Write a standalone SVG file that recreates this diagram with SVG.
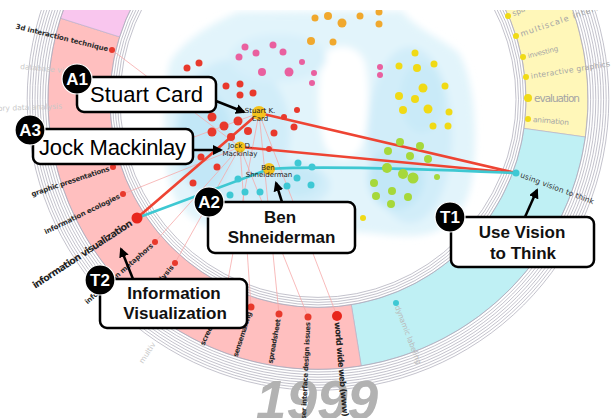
<svg xmlns="http://www.w3.org/2000/svg" width="612" height="418" viewBox="0 0 612 418">
<defs>
<style>
.seg{stroke:#b4adc4;stroke-width:0.6}
.rl{fill:none;stroke:#a9a8b6;stroke-width:0.7}
.thin{fill:none;stroke:#f6a9a9;stroke-width:0.8}
.thick{fill:none;stroke-width:2.6;stroke-linecap:round}
.r{fill:#e8392c}.p{fill:#e9609f}.o{fill:#f0a82e}.y{fill:#f0da16}.g{fill:#a6d83a}.c{fill:#3ec8d4}
.au{fill:#f4c21c}
.an{font-family:"DejaVu Sans","Liberation Sans",sans-serif;font-size:7px;fill:#222;text-anchor:middle}
.tl{font-family:"DejaVu Sans","Liberation Sans",sans-serif;font-size:7px;font-weight:bold;fill:#2b2b2b}
.tf{font-family:"DejaVu Sans","Liberation Sans",sans-serif;font-size:7.5px;fill:#c9c9c9}
.ty{font-family:"DejaVu Sans","Liberation Sans",sans-serif;font-size:7.5px;fill:#a4a4a4}
.box{fill:#fff;stroke:#000;stroke-width:2.5}
.big{font-family:"Liberation Sans",Arial,sans-serif;font-size:22px;fill:#000}
.mid{font-family:"Liberation Sans",Arial,sans-serif;font-size:17px;font-weight:bold;fill:#111;text-anchor:middle}
.bd{fill:#000;stroke:#fff;stroke-width:1.2}
.bt{font-family:"Liberation Sans",Arial,sans-serif;font-size:17px;font-weight:bold;fill:#fff;text-anchor:middle}
.arr{fill:none;stroke:#000;stroke-width:2.5;marker-end:url(#ah)}
</style>
<clipPath id="top"><rect x="0" y="10" width="612" height="408"/></clipPath>
<filter id="soft" x="-20%" y="-20%" width="140%" height="140%"><feGaussianBlur stdDeviation="3.5"/></filter>
<marker id="ah" viewBox="0 0 10 10" refX="8" refY="5" markerWidth="4" markerHeight="4" orient="auto" markerUnits="strokeWidth"><path d="M0,0 L10,5 L0,10 Z" fill="#000"/></marker>
</defs>
<rect width="612" height="418" fill="#fff"/>

<g clip-path="url(#top)">
<!-- density haze behind the clusters -->
<g id="haze" filter="url(#soft)">
<path fill="#e2f4fb" d="M170,62 C185,38 215,22 238,12 L402,11 C415,28 440,38 458,52 C476,80 478,140 472,180 C466,215 445,236 410,236 C385,236 372,232 352,232 C320,236 280,240 245,236 C205,232 178,215 170,185 C163,150 162,95 170,62 Z"/>
<path fill="#fff" d="M324,54 C336,42 358,44 365,62 C371,90 369,128 361,148 C352,163 333,163 325,146 C317,124 316,80 324,54 Z"/>
<ellipse fill="#d1edf9" cx="232" cy="132" rx="58" ry="72"/>
<ellipse fill="#d1edf9" cx="285" cy="185" rx="45" ry="24"/>
<ellipse fill="#d8f0fa" cx="278" cy="58" rx="48" ry="24"/>
<ellipse fill="#d1edf9" cx="410" cy="135" rx="42" ry="88"/>
<ellipse fill="#c2e7f7" cx="205" cy="142" rx="28" ry="50"/>
<ellipse fill="#c2e7f7" cx="396" cy="178" rx="28" ry="32"/>
<ellipse fill="#c6e9f7" cx="298" cy="181" rx="22" ry="15"/>
<ellipse fill="#c9eaf8" cx="422" cy="98" rx="22" ry="35"/>
</g>

<!-- topic ring: coloured sectors and concentric guide arcs -->
<g id="ring">
<path class="seg" fill="#fff7b9" d="M524.8,-74.2 A270,270 0 0 1 585.4,137.0 L524.0,128.4 A208,208 0 0 0 477.3,-34.3 Z"/>
<path class="seg" fill="#bff0f4" d="M585.4,137.0 A270,270 0 0 1 361.2,365.9 L351.3,304.7 A208,208 0 0 0 524.0,128.4 Z"/>
<path class="seg" fill="#ffbfbf" d="M361.2,365.9 A270,270 0 0 1 60.5,18.2 L119.6,36.9 A208,208 0 0 0 351.3,304.7 Z"/>
<path class="seg" fill="#f9c6ee" d="M60.5,18.2 A270,270 0 0 1 183,-134.4 L214,-80.7 A208,208 0 0 0 119.6,36.9 Z"/>
<g transform="translate(318,99.4)">
<circle class="rl" r="270"/><circle class="rl" r="272.6"/><circle class="rl" r="275.2"/><circle class="rl" r="277.8"/><circle class="rl" r="280.4"/><circle class="rl" r="283"/><circle class="rl" r="285.6"/><circle class="rl" r="288.2"/><circle class="rl" r="290.8"/>
<circle class="rl" r="208"/><circle class="rl" r="205.5"/><circle class="rl" r="203"/><circle class="rl" r="200.5"/><circle class="rl" r="198"/>
</g>
</g>
</g>

<text id="year" x="317" y="419" text-anchor="middle" style="font-family:'Liberation Sans',Arial,sans-serif;font-size:55px;font-weight:bold;font-style:italic;fill:#b2b2b2">1999</text>

<!-- connectors -->
<g id="connectors">
<line class="thin" x1="240" y1="147" x2="112" y2="50"/>
<line class="thin" x1="259" y1="113" x2="113" y2="167"/>
<line class="thin" x1="240" y1="147" x2="123" y2="194"/>
<line class="thin" x1="240" y1="147" x2="155" y2="242"/>
<line class="thin" x1="240" y1="147" x2="175" y2="263"/>
<line class="thin" x1="259" y1="113" x2="225" y2="296"/>
<line class="thin" x1="240" y1="147" x2="251" y2="307"/>
<line class="thin" x1="259" y1="113" x2="279" y2="314"/>
<line class="thin" x1="240" y1="147" x2="308" y2="317"/>
<line class="thin" x1="259" y1="113" x2="337" y2="316"/>
<line class="thick" stroke="#ee4433" x1="137" y1="218" x2="259" y2="113"/>
<line class="thick" stroke="#ee4433" x1="259" y1="113" x2="516" y2="173"/>
<line class="thick" stroke="#ee4433" x1="240" y1="147" x2="516" y2="173"/>
<line class="thick" stroke="#3ec8d2" x1="137" y1="218" x2="269" y2="169"/>
<path class="thick" stroke="#3ec8d2" d="M269,169 Q330,165 516,173"/>
</g>

<!-- paper clusters -->
<g id="clusters" clip-path="url(#top)">
<g class="p">
<circle cx="245" cy="47" r="3.5"/><circle cx="273" cy="45" r="3.5"/><circle cx="239" cy="57" r="3.5"/><circle cx="256" cy="53" r="3.5"/><circle cx="283" cy="52" r="3.5"/><circle cx="302" cy="62" r="3"/><circle cx="262" cy="72" r="4"/><circle cx="289" cy="72" r="4.5"/><circle cx="314" cy="73" r="3"/><circle cx="312" cy="83" r="3"/><circle cx="380" cy="67" r="3"/><circle cx="380" cy="75" r="3"/>
</g>
<g class="o">
<circle cx="315" cy="18" r="3.5"/><circle cx="328" cy="16" r="4"/><circle cx="342" cy="23" r="4.5"/><circle cx="360" cy="16" r="3.5"/><circle cx="379" cy="12" r="3.5"/><circle cx="379" cy="24" r="3.5"/><circle cx="311" cy="41" r="4"/><circle cx="333" cy="42" r="3.5"/>
</g>
<g class="r">
<circle cx="187" cy="68" r="3.5"/><circle cx="199" cy="63" r="3.5"/><circle cx="226" cy="86" r="3.5"/><circle cx="240" cy="84" r="3.5"/><circle cx="240" cy="95" r="3.5"/><circle cx="253" cy="93" r="3.5"/><circle cx="212" cy="117" r="4.5"/><circle cx="224" cy="126" r="4.5"/><circle cx="238" cy="121" r="4.5"/><circle cx="212" cy="132" r="4.5"/><circle cx="248" cy="131" r="4"/><circle cx="231" cy="137" r="4"/><circle cx="274" cy="133" r="3.5"/><circle cx="284" cy="117" r="3"/><circle cx="294" cy="127" r="3.5"/><circle cx="297" cy="110" r="3"/><circle cx="269" cy="149" r="3"/><circle cx="201" cy="157" r="3.5"/><circle cx="217" cy="167" r="3.5"/><circle cx="193" cy="183" r="3.5"/>
</g>
<g class="c">
<circle cx="298" cy="163" r="3.5"/><circle cx="312" cy="167" r="3.5"/><circle cx="297" cy="178" r="3.5"/><circle cx="311" cy="185" r="3.5"/><circle cx="287" cy="186" r="3.5"/><circle cx="238" cy="179" r="3.5"/><circle cx="260" cy="192" r="3.5"/><circle cx="245" cy="192" r="3.5"/><circle cx="230" cy="195" r="3.5"/>
</g>
<g class="y">
<circle cx="415" cy="53" r="3.5"/><circle cx="399" cy="66" r="3.5"/><circle cx="417" cy="68" r="4"/><circle cx="434" cy="64" r="3.5"/><circle cx="423" cy="88" r="4.5"/><circle cx="445" cy="86" r="3.5"/><circle cx="399" cy="96" r="4"/><circle cx="415" cy="99" r="4"/><circle cx="403" cy="110" r="4"/><circle cx="428" cy="109" r="4.5"/><circle cx="449" cy="112" r="3.5"/><circle cx="433" cy="126" r="3.5"/><circle cx="448" cy="126" r="3.5"/><circle cx="363" cy="218" r="3"/>
</g>
<g class="g">
<circle cx="400" cy="142" r="4"/><circle cx="420" cy="146" r="4"/><circle cx="388" cy="151" r="4"/><circle cx="410" cy="156" r="4"/><circle cx="428" cy="159" r="4"/><circle cx="387" cy="168" r="5"/><circle cx="403" cy="174" r="5"/><circle cx="413" cy="178" r="5.5"/><circle cx="437" cy="177" r="3"/><circle cx="374" cy="183" r="4"/><circle cx="392" cy="191" r="4"/><circle cx="376" cy="196" r="4"/><circle cx="408" cy="197" r="4"/><circle cx="391" cy="204" r="4"/>
</g>
</g>

<!-- topics on the ring -->
<g clip-path="url(#top)">
<g id="topic-faded">
<text class="tf" transform="translate(20,69) rotate(5)">database vis</text>
<text class="tf" transform="translate(-33,112) rotate(-2)">exploratory data analysis</text>
<text class="tf" transform="translate(143,364) rotate(-57)">multiv</text>
</g>
<g id="topic-3d"><circle class="r" cx="112" cy="50" r="3"/><text class="tl" transform="translate(112,50) rotate(14)" x="-4" y="2.5" text-anchor="end" textLength="95">3d interaction technique</text></g>
<g id="topic-graphic"><circle class="r" cx="113" cy="167" r="3"/><text class="tl" transform="translate(113,167) rotate(-18.3)" x="-4" y="2.5" text-anchor="end" textLength="82">graphic presentations</text></g>
<g id="topic-ecologies"><circle class="r" cx="123" cy="194" r="3"/><text class="tl" transform="translate(123,194) rotate(-25.9)" x="-4" y="2.5" text-anchor="end" textLength="83">information ecologies</text></g>
<g id="topic-infovis"><circle cx="137" cy="218" r="5.5" fill="#e8251c"/><text class="tl" style="font-size:9.5px;fill:#222" transform="translate(137,218) rotate(-33.2)" x="-7" y="3.5" text-anchor="end" textLength="117">information visualization</text></g>
<g id="topic-metaphors"><circle class="r" cx="155" cy="242" r="3"/><text class="tl" transform="translate(155,242) rotate(-41.2)" x="-4" y="2.5" text-anchor="end" textLength="88">information metaphors</text></g>
<g id="topic-analysis"><circle class="r" cx="175" cy="263" r="3"/><text class="tl" transform="translate(175,263) rotate(-48.8)" x="-4" y="2.5" text-anchor="end">data analysis</text></g>
<g id="topic-screen"><circle class="r" cx="225" cy="296" r="3"/><text class="tl" transform="translate(225,296) rotate(-64.7)" x="-4" y="2.5" text-anchor="end" textLength="50">screen layout</text></g>
<g id="topic-sensemaking"><circle class="r" cx="251" cy="307" r="3.5"/><text class="tl" transform="translate(251,307) rotate(-72.1)" x="-5" y="2.5" text-anchor="end" textLength="47">sensemaking</text></g>
<g id="topic-spreadsheet"><circle class="r" cx="279" cy="314" r="3.5"/><text class="tl" transform="translate(279,314) rotate(-79.7)" x="-5" y="2.5" text-anchor="end" textLength="45">spreadsheet</text></g>
<g id="topic-uid"><circle class="r" cx="308" cy="317" r="3.5"/><text class="tl" transform="translate(308,317) rotate(-87.4)" x="-5" y="2.5" text-anchor="end" textLength="102">user interface design issues</text></g>
<g id="topic-www"><circle cx="337" cy="316" r="5" fill="#e8251c"/><text class="tl" style="font-size:8.5px;fill:#222" transform="translate(337,316) rotate(85)" x="6" y="3" textLength="95">world wide web (www)</text></g>
<g id="topic-vision"><circle class="c" cx="516" cy="173" r="3.5"/><text class="tl" style="font-weight:normal;fill:#333;font-size:7.5px" transform="translate(516,173) rotate(20.4)" x="5" y="2.5" textLength="78">using vision to think</text></g>
<g id="topic-labeling"><circle class="c" cx="396" cy="303" r="3"/><text class="tf" style="fill:#b9b9b9" transform="translate(396,303) rotate(69)" x="3" y="2.5" textLength="62">dynamic labeling</text></g>
<g id="topic-space"><circle class="y" cx="508" cy="16" r="3"/><text class="ty" transform="translate(508,16) rotate(-24)" x="5" y="2.5">space</text></g>
<g id="topic-multiscale"><circle class="y" cx="516" cy="36" r="3"/><text class="ty" style="font-size:8px" transform="translate(516,36) rotate(-19)" x="5" y="2.5" textLength="104">multiscale interfaces</text></g>
<g id="topic-investing"><circle class="y" cx="523" cy="57" r="3"/><text class="ty" style="font-size:7px" transform="translate(523,57) rotate(-14)" x="5" y="2.5" textLength="31">investing</text></g>
<g id="topic-interactive"><circle class="y" cx="526" cy="77" r="3"/><text class="ty" transform="translate(526,77) rotate(-9)" x="5" y="2.5" textLength="80">interactive graphics</text></g>
<g id="topic-evaluation"><circle class="y" cx="528" cy="98" r="4"/><text class="ty" style="font-size:10.5px" transform="translate(528,98)" x="6" y="3.5" textLength="46">evaluation</text></g>
<g id="topic-animation"><circle class="y" cx="528" cy="119" r="3"/><text class="ty" transform="translate(528,119) rotate(5)" x="5" y="2.5" textLength="36">animation</text></g>
</g>

<!-- author nodes -->
<g id="author-card"><circle class="au" cx="259" cy="113" r="7"/><text class="an" x="260" y="113">Stuart K.</text><text class="an" x="260" y="120.5">Card</text></g>
<g id="author-mackinlay"><circle class="au" cx="240" cy="147" r="5.5"/><text class="an" x="240" y="148">Jock D.</text><text class="an" x="240" y="155.5">Mackinlay</text></g>
<g id="author-shneiderman"><circle class="au" cx="269" cy="169" r="6"/><text class="an" x="268" y="169.5">Ben</text><text class="an" x="269" y="177">Shneiderman</text></g>

<!-- callouts -->
<g id="callout-A1">
<path class="arr" d="M216,101 L244,112"/>
<rect class="box" x="77" y="77" width="139" height="35" rx="7"/>
<text class="big" x="90" y="102" textLength="113">Stuart Card</text>
<circle class="bd" cx="77" cy="79" r="15"/><text class="bt" x="77" y="85">A1</text>
</g>
<g id="callout-A3">
<path class="arr" d="M193,150 L221,150"/>
<rect class="box" x="33" y="129" width="160" height="35" rx="7"/>
<text class="big" x="39" y="155" textLength="147">Jock Mackinlay</text>
<circle class="bd" cx="30" cy="130" r="15"/><text class="bt" x="30" y="136">A3</text>
</g>
<g id="callout-A2">
<path class="arr" d="M282,202 L276,183"/>
<rect class="box" x="208" y="202" width="147" height="51" rx="7"/>
<text class="mid" x="280" y="223">Ben</text>
<text class="mid" x="281.5" y="243">Shneiderman</text>
<circle class="bd" cx="209" cy="202" r="15"/><text class="bt" x="209" y="208">A2</text>
</g>
<g id="callout-T1">
<path class="arr" d="M525,217 L537,190"/>
<rect class="box" x="451" y="217" width="143" height="50" rx="7"/>
<text class="mid" x="522" y="238">Use Vision</text>
<text class="mid" x="523" y="259">to Think</text>
<circle class="bd" cx="450" cy="217" r="15"/><text class="bt" x="450" y="223">T1</text>
</g>
<g id="callout-T2">
<path class="arr" d="M133,279 L121,249"/>
<rect class="box" x="100" y="279" width="147" height="49" rx="7"/>
<text class="mid" x="174" y="299">Information</text>
<text class="mid" x="175" y="319">Visualization</text>
<circle class="bd" cx="100" cy="280" r="15"/><text class="bt" x="100" y="286">T2</text>
</g>
</svg>
